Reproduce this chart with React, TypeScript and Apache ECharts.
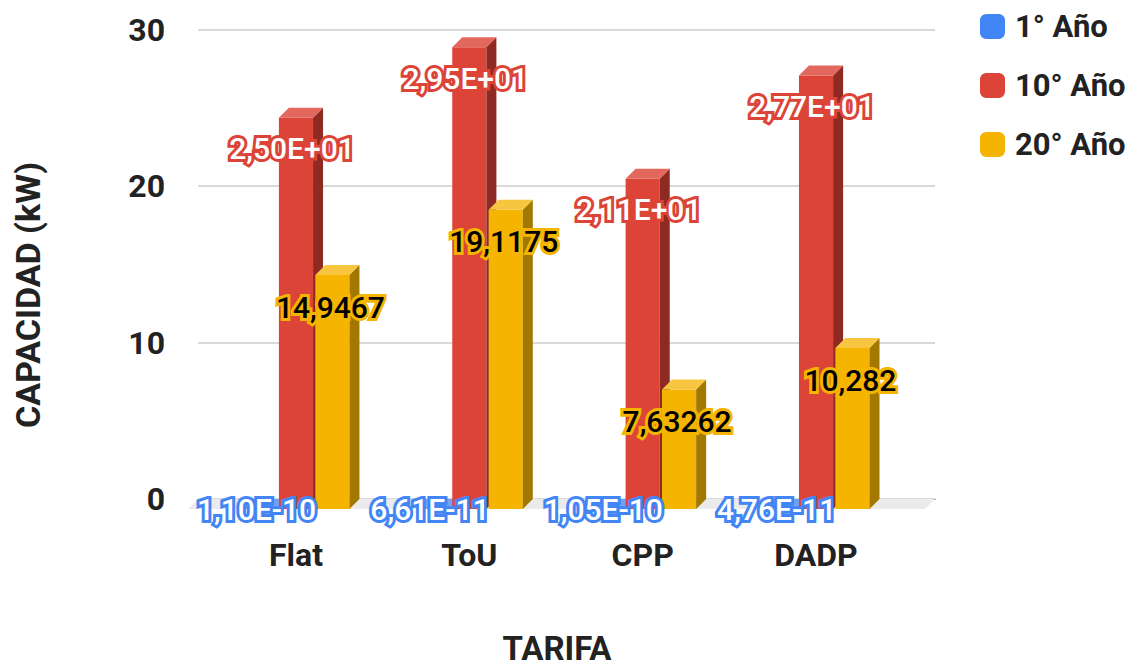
import React, { useEffect, useRef } from "react";
import * as echarts from "echarts";

const categories = ["Flat", "ToU", "CPP", "DADP"];
const seriesNames = ["1° Año", "10° Año", "20° Año"];
const year1 = [1.1e-10, 6.61e-11, 1.05e-10, 4.76e-11];
const year10 = [25.0, 29.5, 21.1, 27.7];
const year20 = [14.9467, 19.1175, 7.63262, 10.282];
const yTicks = [0, 10, 20, 30];

const FONT = "Roboto, 'Noto Sans', sans-serif";

const fmtExp = (v: number) => {
  const [m, e] = v.toExponential(2).split("e");
  const n = parseInt(e, 10);
  return m.replace(".", ",") + "E" + (n < 0 ? "-" : "+") + String(Math.abs(n)).padStart(2, "0");
};
const fmtPlain = (v: number) => String(v).replace(".", ",");

const styles = [
  { front: "#4285F4", side: "#2f62b5", top: "#72a2f7", labelFill: "#ffffff", labelStroke: "#4285F4", fmt: fmtExp, labelDy: 0, labelDx: -3 },
  { front: "#DB4437", side: "#8f2a23", top: "#e2675c", labelFill: "#ffffff", labelStroke: "#DB4437", fmt: fmtExp, labelDy: 31, labelDx: -4 },
  { front: "#F4B400", side: "#a37800", top: "#f7c540", labelFill: "#000000", labelStroke: "#F4B400", fmt: fmtPlain, labelDy: 32, labelDx: -2 },
];

const DX = 10;
const DY = 10;

function makeBarRender(idx: number) {
  const st = styles[idx];
  return (params: any, api: any) => {
    const cat = api.value(0);
    const v = api.value(1);
    const base = api.coord([cat, 0]);
    const top = api.coord([cat, v]);
    const band = api.size([1, 0])[0];
    const w = band * 0.197;
    const step = band * 0.21;
    const cx = base[0] + (idx - 1) * step;
    const x0 = cx - w / 2;
    const x1 = cx + w / 2;
    const yT = top[1] + DY;
    const yB = base[1] + DY;
    return {
      type: "group",
      children: [
        {
          type: "rect",
          shape: { x: x0, y: yT, width: w, height: Math.max(0, yB - yT) },
          style: { fill: st.front },
        },
        {
          type: "polygon",
          shape: { points: [[x1, yT], [x1 + DX, yT - DY], [x1 + DX, yB - DY], [x1, yB]] },
          style: { fill: st.side },
        },
        {
          type: "polygon",
          shape: { points: [[x0, yT], [x1, yT], [x1 + DX, yT - DY], [x0 + DX, yT - DY]] },
          style: { fill: st.top },
        },
        {
          type: "text",
          x: cx + st.labelDx,
          y: yT + st.labelDy,
          z2: 100,
          style: {
            text: st.fmt(v),
            fill: st.labelFill,
            stroke: st.labelStroke,
            lineWidth: 6,
            strokeFirst: true,
            fontSize: 30,
            fontWeight: 500,
            fontFamily: FONT,
            align: "center",
            verticalAlign: "middle",
          },
        },
      ],
    };
  };
}

const seriesData = [year1, year10, year20];

export default function App() {
  const ref = useRef<HTMLDivElement>(null);
  useEffect(() => {
    if (!ref.current) return;
    const chart = echarts.init(ref.current, undefined, { renderer: "svg" });
    const gridTop = 29.5;
    const gridBottomY = 499;
    const option: any = {
      animation: false,
      backgroundColor: "#ffffff",
      textStyle: { fontFamily: FONT },
      grid: [
        { left: 198, width: 737, top: gridTop, height: gridBottomY - gridTop },
        { left: 209.3, width: 693.4, top: gridTop, height: gridBottomY - gridTop },
      ],
      xAxis: [
        {
          gridIndex: 0,
          type: "value",
          min: 0,
          max: 1,
          axisLine: { show: true, lineStyle: { color: "#333333", width: 1 } },
          axisTick: { show: false },
          axisLabel: { show: false },
          splitLine: { show: false },
        },
        {
          gridIndex: 1,
          type: "category",
          data: categories,
          axisLine: { show: false },
          axisTick: { show: false },
          axisLabel: {
            margin: 40,
            fontSize: 32,
            fontWeight: "bold",
            color: "#222222",
            fontFamily: FONT,
          },
          splitLine: { show: false },
        },
      ],
      yAxis: [
        {
          gridIndex: 0,
          type: "value",
          min: yTicks[0],
          max: yTicks[yTicks.length - 1],
          interval: 10,
          axisLine: { show: false },
          axisTick: { show: false },
          axisLabel: {
            margin: 33,
            fontSize: 32,
            fontWeight: "bold",
            color: "#222222",
            fontFamily: FONT,
          },
          splitLine: { lineStyle: { color: "#cccccc", width: 1.5 } },
        },
        {
          gridIndex: 1,
          type: "value",
          min: yTicks[0],
          max: yTicks[yTicks.length - 1],
          interval: 10,
          show: false,
          splitLine: { show: false },
        },
      ],
      legend: {
        orient: "vertical",
        left: 975,
        top: 6,
        itemWidth: 25,
        itemHeight: 25,
        itemGap: 28,
        icon: "roundRect",
        data: seriesNames,
        textStyle: {
          fontSize: 31,
          fontWeight: "bold",
          color: "#222222",
          fontFamily: FONT,
          lineHeight: 30,
          padding: [0, 0, 0, 5],
        },
      },
      graphic: [
        {
          type: "text",
          x: 28,
          y: 295,
          rotation: Math.PI / 2,
          style: {
            text: "CAPACIDAD (kW)",
            fontSize: 34,
            fontWeight: "bold",
            fontFamily: FONT,
            fill: "#222222",
            align: "center",
            verticalAlign: "middle",
          },
        },
        {
          type: "text",
          x: 557,
          y: 648,
          style: {
            text: "TARIFA",
            fontSize: 33,
            lineHeight: 33,
            fontWeight: "bold",
            fontFamily: FONT,
            fill: "#222222",
            align: "center",
            verticalAlign: "middle",
          },
        },
      ],
      series: [
        {
          type: "custom",
          name: "floor",
          xAxisIndex: 0,
          yAxisIndex: 0,
          silent: true,
          data: [[0, 0]],
          renderItem: (params: any) => {
            const c = params.coordSys;
            const yb = c.y + c.height;
            return {
              type: "polygon",
              shape: {
                points: [
                  [c.x, yb],
                  [c.x + c.width, yb],
                  [c.x + c.width - DX, yb + DY],
                  [c.x - DX, yb + DY],
                ],
              },
              style: { fill: "#ebebeb" },
            };
          },
        },
        ...seriesNames.map((name, i) => ({
          type: "custom",
          name,
          xAxisIndex: 1,
          yAxisIndex: 1,
          itemStyle: { color: styles[i].front },
          encode: { x: 0, y: 1 },
          data: seriesData[i].map((v, k) => [k, v]),
          renderItem: makeBarRender(i),
        })),
      ],
    };
    chart.setOption(option);
    return () => chart.dispose();
  }, []);
  return <div ref={ref} style={{ width: 1138, height: 667, position: "absolute", left: 0, top: 0 }} />;
}
